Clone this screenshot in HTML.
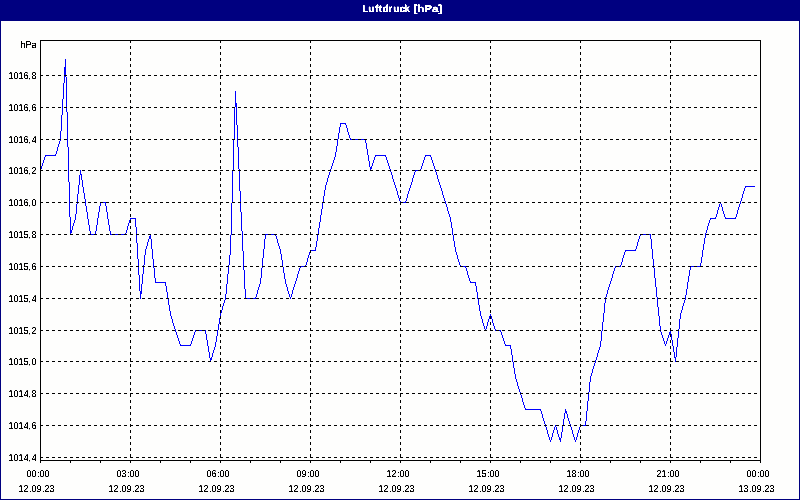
<!DOCTYPE html>
<html><head><meta charset="utf-8"><title>Luftdruck [hPa]</title>
<style>
html,body{margin:0;padding:0;background:#fff;}
body{width:800px;height:500px;overflow:hidden;font-family:"Liberation Sans",sans-serif;}
svg{display:block;}
text{font-family:"Liberation Sans",sans-serif;}
</style></head><body>
<svg width="800" height="500" viewBox="0 0 800 500">
<defs><filter id="px" filterUnits="userSpaceOnUse" x="0" y="0" width="800" height="500" color-interpolation-filters="sRGB"><feComponentTransfer><feFuncA type="linear" slope="4" intercept="-1"/></feComponentTransfer></filter><filter id="pxb" filterUnits="userSpaceOnUse" x="0" y="0" width="800" height="500" color-interpolation-filters="sRGB"><feComponentTransfer><feFuncA type="linear" slope="4" intercept="-1.6"/></feComponentTransfer></filter></defs>
<rect x="0" y="0" width="800" height="500" fill="#fefefd"/>
<rect x="0" y="0" width="800" height="21" fill="#000080" shape-rendering="crispEdges"/>
<rect x="0" y="0" width="1" height="500" fill="#000080" shape-rendering="crispEdges"/>
<rect x="799" y="0" width="1" height="500" fill="#000080" shape-rendering="crispEdges"/>
<rect x="0" y="499" width="800" height="1" fill="#000080" shape-rendering="crispEdges"/>
<text y="12" font-size="10" font-weight="bold" fill="#fff" stroke="#fff" stroke-width="0.3" text-rendering="geometricPrecision" filter="url(#pxb)"><tspan x="362.25 368.25 375 378.75 382.5 388.25 393.25 399.5 404.25 410">Luftdruck </tspan><tspan x="413.4" textLength="28.8" lengthAdjust="spacingAndGlyphs">[hPa]</tspan></text>
<path d="M40 169h1v2h-1zM41 166h1v3h-1zM42 163h1v3h-1zM43 160h1v3h-1zM44 157h1v3h-1zM45 155h1v2h-1zM45 155h6v1h-6zM50 155h6v1h-6zM55 154h1v2h-1zM56 151h1v3h-1zM57 147h1v4h-1zM58 144h1v3h-1zM59 141h1v3h-1zM60 139h1v2h-1zM60 131h1v9h-1zM61 115h1v16h-1zM62 99h1v16h-1zM63 83h1v16h-1zM64 67h1v16h-1zM65 59h1v8h-1zM65 59h1v18h-1zM66 77h1v35h-1zM67 112h1v35h-1zM68 147h1v35h-1zM69 182h1v35h-1zM70 217h1v18h-1zM70 233h1v2h-1zM71 230h1v3h-1zM72 226h1v4h-1zM73 223h1v3h-1zM74 220h1v3h-1zM75 218h1v2h-1zM75 214h1v5h-1zM76 204h1v10h-1zM77 194h1v10h-1zM78 185h1v9h-1zM79 175h1v10h-1zM80 170h1v5h-1zM80 170h1v4h-1zM81 174h1v6h-1zM82 180h1v7h-1zM83 187h1v6h-1zM84 193h1v6h-1zM85 199h1v4h-1zM85 202h1v4h-1zM86 206h1v6h-1zM87 212h1v7h-1zM88 219h1v6h-1zM89 225h1v6h-1zM90 231h1v4h-1zM90 234h6v1h-6zM95 231h1v4h-1zM96 225h1v6h-1zM97 218h1v7h-1zM98 212h1v6h-1zM99 206h1v6h-1zM100 202h1v4h-1zM100 202h6v1h-6zM105 202h1v4h-1zM106 206h1v6h-1zM107 212h1v7h-1zM108 219h1v6h-1zM109 225h1v6h-1zM110 231h1v4h-1zM110 234h6v1h-6zM115 234h6v1h-6zM120 234h6v1h-6zM125 233h1v2h-1zM126 230h1v3h-1zM127 226h1v4h-1zM128 223h1v3h-1zM129 220h1v3h-1zM130 218h1v2h-1zM130 218h6v1h-6zM135 218h1v9h-1zM136 227h1v16h-1zM137 243h1v16h-1zM138 259h1v16h-1zM139 275h1v16h-1zM140 291h1v8h-1zM140 294h1v5h-1zM141 284h1v10h-1zM142 274h1v10h-1zM143 265h1v9h-1zM144 255h1v10h-1zM145 250h1v5h-1zM145 249h1v2h-1zM146 246h1v3h-1zM147 242h1v4h-1zM148 239h1v3h-1zM149 236h1v3h-1zM150 234h1v2h-1zM150 234h1v5h-1zM151 239h1v10h-1zM152 249h1v10h-1zM153 259h1v9h-1zM154 268h1v10h-1zM155 278h1v5h-1zM155 282h6v1h-6zM160 282h6v1h-6zM165 282h1v4h-1zM166 286h1v6h-1zM167 292h1v7h-1zM168 299h1v6h-1zM169 305h1v6h-1zM170 311h1v4h-1zM170 314h1v2h-1zM171 316h1v3h-1zM172 319h1v4h-1zM173 323h1v3h-1zM174 326h1v3h-1zM175 329h1v2h-1zM175 330h1v2h-1zM176 332h1v3h-1zM177 335h1v3h-1zM178 338h1v3h-1zM179 341h1v3h-1zM180 344h1v2h-1zM180 345h6v1h-6zM185 345h6v1h-6zM190 344h1v2h-1zM191 341h1v3h-1zM192 338h1v3h-1zM193 335h1v3h-1zM194 332h1v3h-1zM195 330h1v2h-1zM195 330h6v1h-6zM200 330h6v1h-6zM205 330h1v4h-1zM206 334h1v6h-1zM207 340h1v6h-1zM208 346h1v6h-1zM209 352h1v6h-1zM210 358h1v4h-1zM210 360h1v2h-1zM211 357h1v3h-1zM212 353h1v4h-1zM213 350h1v3h-1zM214 347h1v3h-1zM215 345h1v2h-1zM215 342h1v4h-1zM216 336h1v6h-1zM217 330h1v6h-1zM218 324h1v6h-1zM219 318h1v6h-1zM220 314h1v4h-1zM220 313h1v2h-1zM221 310h1v3h-1zM222 306h1v4h-1zM223 303h1v3h-1zM224 300h1v3h-1zM225 298h1v2h-1zM225 294h1v5h-1zM226 284h1v10h-1zM227 274h1v10h-1zM228 265h1v9h-1zM229 255h1v10h-1zM230 250h1v5h-1zM230 235h1v16h-1zM231 203h1v32h-1zM232 171h1v32h-1zM233 139h1v32h-1zM234 107h1v32h-1zM235 91h1v16h-1zM235 91h1v12h-1zM236 103h1v22h-1zM237 125h1v22h-1zM238 147h1v22h-1zM239 169h1v22h-1zM240 191h1v12h-1zM240 202h1v10h-1zM241 212h1v19h-1zM242 231h1v20h-1zM243 251h1v19h-1zM244 270h1v19h-1zM245 289h1v10h-1zM245 298h6v1h-6zM250 298h6v1h-6zM255 297h1v2h-1zM256 294h1v3h-1zM257 290h1v4h-1zM258 287h1v3h-1zM259 284h1v3h-1zM260 282h1v2h-1zM260 278h1v5h-1zM261 268h1v10h-1zM262 258h1v10h-1zM263 249h1v9h-1zM264 239h1v10h-1zM265 234h1v5h-1zM265 234h6v1h-6zM270 234h6v1h-6zM275 234h1v2h-1zM276 236h1v3h-1zM277 239h1v4h-1zM278 243h1v3h-1zM279 246h1v3h-1zM280 249h1v2h-1zM280 250h1v4h-1zM281 254h1v6h-1zM282 260h1v7h-1zM283 267h1v6h-1zM284 273h1v6h-1zM285 279h1v4h-1zM285 282h1v2h-1zM286 284h1v3h-1zM287 287h1v4h-1zM288 291h1v3h-1zM289 294h1v3h-1zM290 297h1v2h-1zM290 297h1v2h-1zM291 294h1v3h-1zM292 290h1v4h-1zM293 287h1v3h-1zM294 284h1v3h-1zM295 282h1v2h-1zM295 281h1v2h-1zM296 278h1v3h-1zM297 274h1v4h-1zM298 271h1v3h-1zM299 268h1v3h-1zM300 266h1v2h-1zM300 266h6v1h-6zM305 265h1v2h-1zM306 262h1v3h-1zM307 258h1v4h-1zM308 255h1v3h-1zM309 252h1v3h-1zM310 250h1v2h-1zM310 250h6v1h-6zM315 247h1v4h-1zM316 241h1v6h-1zM317 234h1v7h-1zM318 228h1v6h-1zM319 222h1v6h-1zM320 218h1v4h-1zM320 215h1v4h-1zM321 209h1v6h-1zM322 202h1v7h-1zM323 196h1v6h-1zM324 190h1v6h-1zM325 186h1v4h-1zM325 185h1v2h-1zM326 182h1v3h-1zM327 178h1v4h-1zM328 175h1v3h-1zM329 172h1v3h-1zM330 170h1v2h-1zM330 169h1v2h-1zM331 166h1v3h-1zM332 163h1v3h-1zM333 160h1v3h-1zM334 157h1v3h-1zM335 155h1v2h-1zM335 152h1v4h-1zM336 146h1v6h-1zM337 139h1v7h-1zM338 133h1v6h-1zM339 127h1v6h-1zM340 123h1v4h-1zM340 123h6v1h-6zM345 123h1v2h-1zM346 125h1v3h-1zM347 128h1v4h-1zM348 132h1v3h-1zM349 135h1v3h-1zM350 138h1v2h-1zM350 139h6v1h-6zM355 139h6v1h-6zM360 139h6v1h-6zM365 139h1v4h-1zM366 143h1v6h-1zM367 149h1v6h-1zM368 155h1v6h-1zM369 161h1v6h-1zM370 167h1v4h-1zM370 169h1v2h-1zM371 166h1v3h-1zM372 163h1v3h-1zM373 160h1v3h-1zM374 157h1v3h-1zM375 155h1v2h-1zM375 155h6v1h-6zM380 155h6v1h-6zM385 155h1v2h-1zM386 157h1v3h-1zM387 160h1v3h-1zM388 163h1v3h-1zM389 166h1v3h-1zM390 169h1v2h-1zM390 170h1v2h-1zM391 172h1v3h-1zM392 175h1v4h-1zM393 179h1v3h-1zM394 182h1v3h-1zM395 185h1v2h-1zM395 186h1v2h-1zM396 188h1v3h-1zM397 191h1v4h-1zM398 195h1v3h-1zM399 198h1v3h-1zM400 201h1v2h-1zM400 202h6v1h-6zM405 201h1v2h-1zM406 198h1v3h-1zM407 194h1v4h-1zM408 191h1v3h-1zM409 188h1v3h-1zM410 186h1v2h-1zM410 185h1v2h-1zM411 182h1v3h-1zM412 178h1v4h-1zM413 175h1v3h-1zM414 172h1v3h-1zM415 170h1v2h-1zM415 170h6v1h-6zM420 169h1v2h-1zM421 166h1v3h-1zM422 163h1v3h-1zM423 160h1v3h-1zM424 157h1v3h-1zM425 155h1v2h-1zM425 155h6v1h-6zM430 155h1v2h-1zM431 157h1v3h-1zM432 160h1v3h-1zM433 163h1v3h-1zM434 166h1v3h-1zM435 169h1v2h-1zM435 170h1v2h-1zM436 172h1v3h-1zM437 175h1v4h-1zM438 179h1v3h-1zM439 182h1v3h-1zM440 185h1v2h-1zM440 186h1v2h-1zM441 188h1v3h-1zM442 191h1v4h-1zM443 195h1v3h-1zM444 198h1v3h-1zM445 201h1v2h-1zM445 202h1v2h-1zM446 204h1v3h-1zM447 207h1v4h-1zM448 211h1v3h-1zM449 214h1v3h-1zM450 217h1v2h-1zM450 218h1v4h-1zM451 222h1v6h-1zM452 228h1v7h-1zM453 235h1v6h-1zM454 241h1v6h-1zM455 247h1v4h-1zM455 250h1v2h-1zM456 252h1v3h-1zM457 255h1v4h-1zM458 259h1v3h-1zM459 262h1v3h-1zM460 265h1v2h-1zM460 266h6v1h-6zM465 266h1v2h-1zM466 268h1v3h-1zM467 271h1v4h-1zM468 275h1v3h-1zM469 278h1v3h-1zM470 281h1v2h-1zM470 282h6v1h-6zM475 282h1v4h-1zM476 286h1v6h-1zM477 292h1v7h-1zM478 299h1v6h-1zM479 305h1v6h-1zM480 311h1v4h-1zM480 314h1v2h-1zM481 316h1v3h-1zM482 319h1v4h-1zM483 323h1v3h-1zM484 326h1v3h-1zM485 329h1v2h-1zM485 329h1v2h-1zM486 326h1v3h-1zM487 322h1v4h-1zM488 319h1v3h-1zM489 316h1v3h-1zM490 314h1v2h-1zM490 314h1v2h-1zM491 316h1v3h-1zM492 319h1v4h-1zM493 323h1v3h-1zM494 326h1v3h-1zM495 329h1v2h-1zM495 330h6v1h-6zM500 330h1v2h-1zM501 332h1v3h-1zM502 335h1v3h-1zM503 338h1v3h-1zM504 341h1v3h-1zM505 344h1v2h-1zM505 345h6v1h-6zM510 345h1v4h-1zM511 349h1v6h-1zM512 355h1v7h-1zM513 362h1v6h-1zM514 368h1v6h-1zM515 374h1v4h-1zM515 377h1v2h-1zM516 379h1v3h-1zM517 382h1v4h-1zM518 386h1v3h-1zM519 389h1v3h-1zM520 392h1v2h-1zM520 393h1v2h-1zM521 395h1v3h-1zM522 398h1v4h-1zM523 402h1v3h-1zM524 405h1v3h-1zM525 408h1v2h-1zM525 409h6v1h-6zM530 409h6v1h-6zM535 409h6v1h-6zM540 409h1v2h-1zM541 411h1v3h-1zM542 414h1v4h-1zM543 418h1v3h-1zM544 421h1v3h-1zM545 424h1v2h-1zM545 425h1v2h-1zM546 427h1v3h-1zM547 430h1v4h-1zM548 434h1v3h-1zM549 437h1v3h-1zM550 440h1v2h-1zM550 440h1v2h-1zM551 437h1v3h-1zM552 433h1v4h-1zM553 430h1v3h-1zM554 427h1v3h-1zM555 425h1v2h-1zM555 425h1v2h-1zM556 427h1v3h-1zM557 430h1v4h-1zM558 434h1v3h-1zM559 437h1v3h-1zM560 440h1v2h-1zM560 438h1v4h-1zM561 432h1v6h-1zM562 425h1v7h-1zM563 419h1v6h-1zM564 413h1v6h-1zM565 409h1v4h-1zM565 409h1v2h-1zM566 411h1v3h-1zM567 414h1v4h-1zM568 418h1v3h-1zM569 421h1v3h-1zM570 424h1v2h-1zM570 425h1v2h-1zM571 427h1v3h-1zM572 430h1v4h-1zM573 434h1v3h-1zM574 437h1v3h-1zM575 440h1v2h-1zM575 440h1v2h-1zM576 437h1v3h-1zM577 433h1v4h-1zM578 430h1v3h-1zM579 427h1v3h-1zM580 425h1v2h-1zM580 425h6v1h-6zM585 421h1v5h-1zM586 411h1v10h-1zM587 401h1v10h-1zM588 392h1v9h-1zM589 382h1v10h-1zM590 377h1v5h-1zM590 376h1v2h-1zM591 373h1v3h-1zM592 369h1v4h-1zM593 366h1v3h-1zM594 363h1v3h-1zM595 361h1v2h-1zM595 360h1v2h-1zM596 357h1v3h-1zM597 353h1v4h-1zM598 350h1v3h-1zM599 347h1v3h-1zM600 345h1v2h-1zM600 341h1v5h-1zM601 331h1v10h-1zM602 322h1v9h-1zM603 313h1v9h-1zM604 303h1v10h-1zM605 298h1v5h-1zM605 297h1v2h-1zM606 294h1v3h-1zM607 290h1v4h-1zM608 287h1v3h-1zM609 284h1v3h-1zM610 282h1v2h-1zM610 281h1v2h-1zM611 278h1v3h-1zM612 274h1v4h-1zM613 271h1v3h-1zM614 268h1v3h-1zM615 266h1v2h-1zM615 266h6v1h-6zM620 265h1v2h-1zM621 262h1v3h-1zM622 258h1v4h-1zM623 255h1v3h-1zM624 252h1v3h-1zM625 250h1v2h-1zM625 250h6v1h-6zM630 250h6v1h-6zM635 249h1v2h-1zM636 246h1v3h-1zM637 242h1v4h-1zM638 239h1v3h-1zM639 236h1v3h-1zM640 234h1v2h-1zM640 234h6v1h-6zM645 234h6v1h-6zM650 234h1v5h-1zM651 239h1v10h-1zM652 249h1v10h-1zM653 259h1v9h-1zM654 268h1v10h-1zM655 278h1v5h-1zM655 282h1v5h-1zM656 287h1v10h-1zM657 297h1v10h-1zM658 307h1v9h-1zM659 316h1v10h-1zM660 326h1v5h-1zM660 330h1v2h-1zM661 332h1v3h-1zM662 335h1v3h-1zM663 338h1v3h-1zM664 341h1v3h-1zM665 344h1v2h-1zM665 344h1v2h-1zM666 341h1v3h-1zM667 338h1v3h-1zM668 335h1v3h-1zM669 332h1v3h-1zM670 330h1v2h-1zM670 330h1v4h-1zM671 334h1v6h-1zM672 340h1v6h-1zM673 346h1v6h-1zM674 352h1v6h-1zM675 358h1v4h-1zM675 357h1v5h-1zM676 347h1v10h-1zM677 338h1v9h-1zM678 329h1v9h-1zM679 319h1v10h-1zM680 314h1v5h-1zM680 313h1v2h-1zM681 310h1v3h-1zM682 306h1v4h-1zM683 303h1v3h-1zM684 300h1v3h-1zM685 298h1v2h-1zM685 295h1v4h-1zM686 289h1v6h-1zM687 282h1v7h-1zM688 276h1v6h-1zM689 270h1v6h-1zM690 266h1v4h-1zM690 266h6v1h-6zM695 266h6v1h-6zM700 263h1v4h-1zM701 257h1v6h-1zM702 250h1v7h-1zM703 244h1v6h-1zM704 238h1v6h-1zM705 234h1v4h-1zM705 233h1v2h-1zM706 230h1v3h-1zM707 226h1v4h-1zM708 223h1v3h-1zM709 220h1v3h-1zM710 218h1v2h-1zM710 218h6v1h-6zM715 217h1v2h-1zM716 214h1v3h-1zM717 210h1v4h-1zM718 207h1v3h-1zM719 204h1v3h-1zM720 202h1v2h-1zM720 202h1v2h-1zM721 204h1v3h-1zM722 207h1v4h-1zM723 211h1v3h-1zM724 214h1v3h-1zM725 217h1v2h-1zM725 218h6v1h-6zM730 218h6v1h-6zM735 217h1v2h-1zM736 214h1v3h-1zM737 210h1v4h-1zM738 207h1v3h-1zM739 204h1v3h-1zM740 202h1v2h-1zM740 201h1v2h-1zM741 198h1v3h-1zM742 194h1v4h-1zM743 191h1v3h-1zM744 188h1v3h-1zM745 186h1v2h-1zM745 186h6v1h-6zM750 186h5v1h-5z" fill="#0000ff" stroke="none" shape-rendering="crispEdges"/>
<g stroke="#000" stroke-width="1" shape-rendering="crispEdges" fill="none">
<line x1="40" y1="75.5" x2="760" y2="75.5" stroke-dasharray="3 3"/>
<line x1="40" y1="107.5" x2="760" y2="107.5" stroke-dasharray="3 3"/>
<line x1="40" y1="139.5" x2="760" y2="139.5" stroke-dasharray="3 3"/>
<line x1="40" y1="170.5" x2="760" y2="170.5" stroke-dasharray="3 3"/>
<line x1="40" y1="202.5" x2="760" y2="202.5" stroke-dasharray="3 3"/>
<line x1="40" y1="234.5" x2="760" y2="234.5" stroke-dasharray="3 3"/>
<line x1="40" y1="266.5" x2="760" y2="266.5" stroke-dasharray="3 3"/>
<line x1="40" y1="298.5" x2="760" y2="298.5" stroke-dasharray="3 3"/>
<line x1="40" y1="330.5" x2="760" y2="330.5" stroke-dasharray="3 3"/>
<line x1="40" y1="361.5" x2="760" y2="361.5" stroke-dasharray="3 3"/>
<line x1="40" y1="393.5" x2="760" y2="393.5" stroke-dasharray="3 3"/>
<line x1="40" y1="425.5" x2="760" y2="425.5" stroke-dasharray="3 3"/>
<line x1="40" y1="457.5" x2="760" y2="457.5" stroke-dasharray="3 3"/>
<line x1="130.5" y1="40" x2="130.5" y2="460" stroke-dasharray="3 3"/>
<line x1="220.5" y1="40" x2="220.5" y2="460" stroke-dasharray="3 3"/>
<line x1="310.5" y1="40" x2="310.5" y2="460" stroke-dasharray="3 3"/>
<line x1="400.5" y1="40" x2="400.5" y2="460" stroke-dasharray="3 3"/>
<line x1="490.5" y1="40" x2="490.5" y2="460" stroke-dasharray="3 3"/>
<line x1="580.5" y1="40" x2="580.5" y2="460" stroke-dasharray="3 3"/>
<line x1="670.5" y1="40" x2="670.5" y2="460" stroke-dasharray="3 3"/>
<rect x="40.5" y="40.5" width="720" height="420"/>
<line x1="40.5" y1="461" x2="40.5" y2="463"/>
<line x1="70.5" y1="461" x2="70.5" y2="463"/>
<line x1="100.5" y1="461" x2="100.5" y2="463"/>
<line x1="130.5" y1="461" x2="130.5" y2="463"/>
<line x1="160.5" y1="461" x2="160.5" y2="463"/>
<line x1="190.5" y1="461" x2="190.5" y2="463"/>
<line x1="220.5" y1="461" x2="220.5" y2="463"/>
<line x1="250.5" y1="461" x2="250.5" y2="463"/>
<line x1="280.5" y1="461" x2="280.5" y2="463"/>
<line x1="310.5" y1="461" x2="310.5" y2="463"/>
<line x1="340.5" y1="461" x2="340.5" y2="463"/>
<line x1="370.5" y1="461" x2="370.5" y2="463"/>
<line x1="400.5" y1="461" x2="400.5" y2="463"/>
<line x1="430.5" y1="461" x2="430.5" y2="463"/>
<line x1="460.5" y1="461" x2="460.5" y2="463"/>
<line x1="490.5" y1="461" x2="490.5" y2="463"/>
<line x1="520.5" y1="461" x2="520.5" y2="463"/>
<line x1="550.5" y1="461" x2="550.5" y2="463"/>
<line x1="580.5" y1="461" x2="580.5" y2="463"/>
<line x1="610.5" y1="461" x2="610.5" y2="463"/>
<line x1="640.5" y1="461" x2="640.5" y2="463"/>
<line x1="670.5" y1="461" x2="670.5" y2="463"/>
<line x1="700.5" y1="461" x2="700.5" y2="463"/>
<line x1="730.5" y1="461" x2="730.5" y2="463"/>
<line x1="760.5" y1="461" x2="760.5" y2="463"/>
</g>
<g font-size="9" fill="#000" text-rendering="geometricPrecision" filter="url(#px)">
<text transform="translate(0,48) scale(1,1.11)" x="20.5 25.5 31.5" y="0">hPa</text>
<text transform="translate(0,79) scale(1,1.11)" x="8.5 13.5 18.5 23.5 28.5 31.5" y="0">1016,8</text>
<text transform="translate(0,111) scale(1,1.11)" x="8.5 13.5 18.5 23.5 28.5 31.5" y="0">1016,6</text>
<text transform="translate(0,143) scale(1,1.11)" x="8.5 13.5 18.5 23.5 28.5 31.75" y="0">1016,4</text>
<text transform="translate(0,174) scale(1,1.11)" x="8.5 13.5 18.5 23.5 28.5 31.5" y="0">1016,2</text>
<text transform="translate(0,206) scale(1,1.11)" x="8.5 13.5 18.5 23.5 28.5 31.5" y="0">1016,0</text>
<text transform="translate(0,238) scale(1,1.11)" x="8.5 13.5 18.5 23.5 28.5 31.5" y="0">1015,8</text>
<text transform="translate(0,270) scale(1,1.11)" x="8.5 13.5 18.5 23.5 28.5 31.5" y="0">1015,6</text>
<text transform="translate(0,302) scale(1,1.11)" x="8.5 13.5 18.5 23.5 28.5 31.75" y="0">1015,4</text>
<text transform="translate(0,334) scale(1,1.11)" x="8.5 13.5 18.5 23.5 28.5 31.5" y="0">1015,2</text>
<text transform="translate(0,365) scale(1,1.11)" x="8.5 13.5 18.5 23.5 28.5 31.5" y="0">1015,0</text>
<text transform="translate(0,397) scale(1,1.11)" x="8.5 13.5 18.5 23.75 28.5 31.5" y="0">1014,8</text>
<text transform="translate(0,429) scale(1,1.11)" x="8.5 13.5 18.5 23.75 28.5 31.5" y="0">1014,6</text>
<text transform="translate(0,461) scale(1,1.11)" x="8.5 13.5 18.5 23.75 28.5 31.75" y="0">1014,4</text>
<text transform="translate(0,477) scale(1,1.11)" x="26.5 31.5 37.25 39.5 44.5" y="0">00:00</text>
<text transform="translate(0,492) scale(1,1.11)" x="18.5 23.5 29.25 31.5 36.5 42.25 44.5 49.5" y="0">12.09.23</text>
<text transform="translate(0,477) scale(1,1.11)" x="116.5 121.5 127.25 129.5 134.5" y="0">03:00</text>
<text transform="translate(0,492) scale(1,1.11)" x="108.5 113.5 119.25 121.5 126.5 132.25 134.5 139.5" y="0">12.09.23</text>
<text transform="translate(0,477) scale(1,1.11)" x="206.5 211.5 217.25 219.5 224.5" y="0">06:00</text>
<text transform="translate(0,492) scale(1,1.11)" x="198.5 203.5 209.25 211.5 216.5 222.25 224.5 229.5" y="0">12.09.23</text>
<text transform="translate(0,477) scale(1,1.11)" x="296.5 301.5 307.25 309.5 314.5" y="0">09:00</text>
<text transform="translate(0,492) scale(1,1.11)" x="288.5 293.5 299.25 301.5 306.5 312.25 314.5 319.5" y="0">12.09.23</text>
<text transform="translate(0,477) scale(1,1.11)" x="386.5 391.5 397.25 399.5 404.5" y="0">12:00</text>
<text transform="translate(0,492) scale(1,1.11)" x="378.5 383.5 389.25 391.5 396.5 402.25 404.5 409.5" y="0">12.09.23</text>
<text transform="translate(0,477) scale(1,1.11)" x="476.5 481.5 487.25 489.5 494.5" y="0">15:00</text>
<text transform="translate(0,492) scale(1,1.11)" x="468.5 473.5 479.25 481.5 486.5 492.25 494.5 499.5" y="0">12.09.23</text>
<text transform="translate(0,477) scale(1,1.11)" x="566.5 571.5 577.25 579.5 584.5" y="0">18:00</text>
<text transform="translate(0,492) scale(1,1.11)" x="558.5 563.5 569.25 571.5 576.5 582.25 584.5 589.5" y="0">12.09.23</text>
<text transform="translate(0,477) scale(1,1.11)" x="656.5 661.5 667.25 669.5 674.5" y="0">21:00</text>
<text transform="translate(0,492) scale(1,1.11)" x="648.5 653.5 659.25 661.5 666.5 672.25 674.5 679.5" y="0">12.09.23</text>
<text transform="translate(0,477) scale(1,1.11)" x="746.5 751.5 757.25 759.5 764.5" y="0">00:00</text>
<text transform="translate(0,492) scale(1,1.11)" x="738.5 743.5 749.25 751.5 756.5 762.25 764.5 769.5" y="0">13.09.23</text>
</g>
</svg>
</body></html>
